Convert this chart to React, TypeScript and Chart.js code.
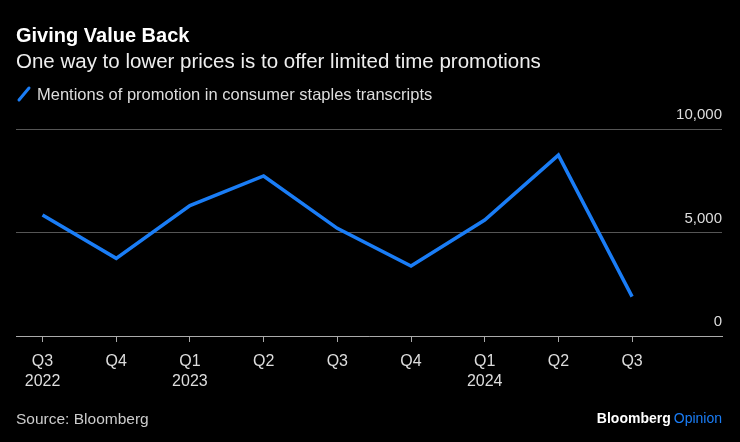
import React, { useEffect, useRef } from "react";
import { Chart, registerables } from "chart.js";

Chart.register(...registerables);

const quarters = ["Q3", "Q4", "Q1", "Q2", "Q3", "Q4", "Q1", "Q2", "Q3"];
const years = ["2022", "", "2023", "", "", "", "2024", "", ""];
const mentions = [5850, 3750, 6300, 7730, 5200, 3380, 5600, 8740, 1900];
const yTicks = [0, 5000, 10000];

const title = "Giving Value Back";
const subtitle = "One way to lower prices is to offer limited time promotions";
const legendLabel = "Mentions of promotion in consumer staples transcripts";
const source = "Source: Bloomberg";

const FONT = "'Liberation Sans', Arial, sans-serif";
const BLUE = "#1a7df6";

const textPlugin = {
  id: "texts",
  beforeDraw(chart: any) {
    const ctx = chart.ctx;
    ctx.save();
    ctx.fillStyle = "#000";
    ctx.fillRect(0, 0, chart.width, chart.height);
    ctx.restore();
  },
  afterDraw(chart: any) {
    const ctx = chart.ctx;
    ctx.save();
    ctx.textBaseline = "alphabetic";
    ctx.textAlign = "left";
    ctx.fillStyle = "#ffffff";
    ctx.font = `bold 20px ${FONT}`;
    ctx.fillText(title, 16, 42);
    ctx.fillStyle = "#eeeeee";
    ctx.font = `20.5px ${FONT}`;
    ctx.fillText(subtitle, 16, 68);
    // legend
    ctx.strokeStyle = BLUE;
    ctx.lineWidth = 3;
    ctx.lineCap = "round";
    ctx.beginPath();
    ctx.moveTo(19, 100);
    ctx.lineTo(29, 88);
    ctx.stroke();
    ctx.fillStyle = "#dddddd";
    ctx.font = `16.5px ${FONT}`;
    ctx.fillText(legendLabel, 37, 100);
    // footer
    ctx.fillStyle = "#cccccc";
    ctx.font = `15.5px ${FONT}`;
    ctx.fillText(source, 16, 424);
    ctx.textAlign = "right";
    ctx.font = `14px ${FONT}`;
    ctx.fillStyle = BLUE;
    const op = "Opinion";
    ctx.fillText(op, 722, 423);
    const w = ctx.measureText(op).width;
    ctx.fillStyle = "#ffffff";
    ctx.font = `bold 14px ${FONT}`;
    ctx.fillText("Bloomberg", 722 - w - 3, 423);
    ctx.restore();
  },
};

export default function App() {
  const ref = useRef<HTMLCanvasElement | null>(null);
  useEffect(() => {
    document.body.style.margin = "0";
    document.body.style.background = "#000";
    const ctx = ref.current!.getContext("2d")!;
    const chart = new Chart(ctx, {
      type: "line",
      data: {
        datasets: [
          {
            label: legendLabel,
            data: mentions.map((v, i) => ({ x: i, y: v })),
            borderColor: BLUE,
            borderWidth: 3.5,
            pointRadius: 0,
            tension: 0,
            fill: false,
          },
        ],
      },
      options: {
        animation: false,
        responsive: false,
        maintainAspectRatio: false,
        layout: { padding: { left: 16, right: 18, top: 129, bottom: 40 } },
        plugins: { legend: { display: false }, tooltip: { enabled: false }, title: { display: false } },
        scales: {
          x: {
            type: "linear",
            min: -0.36,
            max: 9.22,
            afterBuildTicks: (axis: any) => {
              axis.ticks = quarters.map((_, i) => ({ value: i }));
            },
            grid: {
              display: true,
              drawOnChartArea: false,
              drawTicks: true,
              tickLength: 6,
              color: "#aaaaaa",
            },
            border: { display: true, color: "#aaaaaa", width: 1 },
            ticks: {
              autoSkip: false,
              maxRotation: 0,
              padding: 10,
              color: "#dddddd",
              font: { family: FONT, size: 16, lineHeight: 1.25 },
              callback: (v: any) => {
                const i = Math.round(Number(v));
                return [quarters[i], years[i] || ""];
              },
            },
          },
          y: {
            position: "right",
            min: 0,
            max: 10000,
            afterBuildTicks: (axis: any) => {
              axis.ticks = yTicks.map((v) => ({ value: v }));
            },
            grid: { color: "#555555", drawTicks: false },
            border: { display: false },
            ticks: {
              mirror: true,
              padding: 0,
              labelOffset: -14,
              color: "#dddddd",
              font: { family: FONT, size: 15 },
              callback: (v: any) => Number(v).toLocaleString("en-US"),
            },
          },
        },
      },
      plugins: [textPlugin],
    });
    return () => chart.destroy();
  }, []);
  return (
    <div style={{ position: "fixed", left: 0, top: 0, width: 740, height: 442, background: "#000" }}>
      <canvas ref={ref} width={740} height={442} style={{ width: 740, height: 442, display: "block" }} />
    </div>
  );
}
